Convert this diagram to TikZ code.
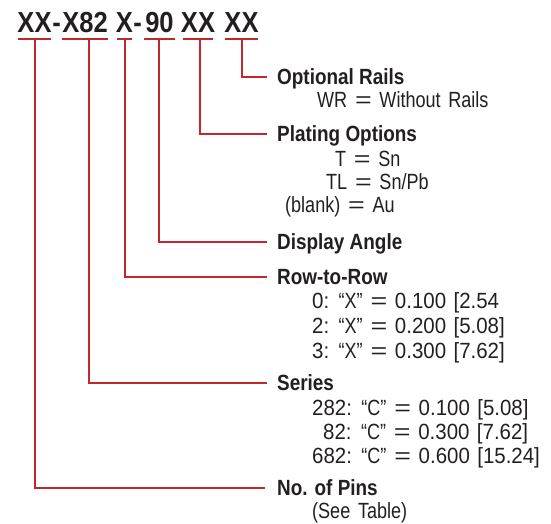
\documentclass[tikz,border=0pt]{standalone}
\usepackage{fontspec}
\setmainfont{Liberation Sans}
\newfontfamily\bodyfont{Liberation Sans}[FakeStretch=0.82,WordSpace=1.55]
\newfontfamily\numfont{Liberation Sans}[FakeStretch=0.93,WordSpace=1.3]
\newfontfamily\headfont{Liberation Sans}[FakeStretch=0.86]
\newfontfamily\titlefont{Liberation Sans}[FakeStretch=0.88]
\newfontfamily\eqfont{Liberation Sans}[FakeStretch=1.3]
\newcommand{\eqs}{{\eqfont=}}
\newcommand{\nm}[1]{{\numfont #1}}
\definecolor{rulered}{HTML}{C1272D}
\definecolor{ink}{HTML}{231F20}
\tikzset{
  conn/.style={draw=rulered, line width=2pt},
  codetext/.style={inner sep=0pt, anchor=base, text=ink, font=\titlefont\bfseries\fontsize{29}{34}\selectfont},
  headtext/.style={inner sep=0pt, anchor=west, text=ink, text height=15.5pt, text depth=0pt, font=\headfont\bfseries\fontsize{22}{24}\selectfont},
  bodytext/.style={inner sep=0pt, anchor=base west, text=ink, font=\bodyfont\fontsize{22}{24}\selectfont},
}
\begin{document}
\begin{tikzpicture}[x=1pt,y=-1pt]
\useasboundingbox (0,0) rectangle (551,524);
% code string
\node[codetext] (c1) at (34.5,33) {XX};
\node[codetext] (h1) at (56.5,33) {-};
\node[codetext] (c2) at (85,33) {X82};
\node[codetext] (c3) at (124.5,33) {X};
\node[codetext] (h2) at (137.5,33) {-};
\node[codetext] (c4) at (159.5,33) {90};
\node[codetext] (c5) at (198,33) {XX};
\node[codetext] (c6) at (241.5,33) {XX};
% underlines
\draw[conn] (18,39) -- (51,39);
\draw[conn] (62,39) -- (108,39);
\draw[conn] (117,39) -- (132,39);
\draw[conn] (144,39) -- (175,39);
\draw[conn] (183,39) -- (213,39);
\draw[conn] (225,39) -- (258,39);
\coordinate (u1) at (35,39);
\coordinate (u2) at (89,39);
\coordinate (u3) at (125,39);
\coordinate (u4) at (159,39);
\coordinate (u5) at (200,39);
\coordinate (u6) at (242,39);
% headers
\node[headtext] (l6) at (277,77) {Optional Rails};
\node[headtext] (l5) at (277,134) {Plating Options};
\node[headtext] (l4) at (277,241.5) {Display Angle};
\node[headtext] (l3) at (277,276.5) {Row-to-Row};
\node[headtext] (l2) at (277,382.5) {Series};
\node[headtext] (l1) at (277,487.5) {No. of Pins};
% body lines
\node[bodytext] (b61) at (317,108) {WR \eqs{} Without Rails};
\node[bodytext] (b51) at (335,166) {T \eqs{} Sn};
\node[bodytext] (b52) at (326,189) {TL \eqs{} Sn/Pb};
\node[bodytext] (b53) at (285,212) {(blank) \eqs{} Au};
\node[bodytext] (b31) at (312,308) {\nm{0:} “X” \eqs{} \nm{0.100 [2.54}};
\node[bodytext] (b32) at (312,333) {\nm{2:} “X” \eqs{} \nm{0.200 [5.08]}};
\node[bodytext] (b33) at (312,358) {\nm{3:} “X” \eqs{} \nm{0.300 [7.62]}};
\node[bodytext] (b21) at (312,415) {\nm{282:} “C” \eqs{} \nm{0.100 [5.08]}};
\node[bodytext] (b22) at (323,439) {\nm{82:} “C” \eqs{} \nm{0.300 [7.62]}};
\node[bodytext] (b23) at (312,463) {\nm{682:} “C” \eqs{} \nm{0.600 [15.24]}};
\node[bodytext] (b11) at (312,518) {(See Table)};
% connectors
\draw[conn] (u6) |- ([xshift=-10pt]l6.west);
\draw[conn] (u5) |- ([xshift=-10pt]l5.west);
\draw[conn] (u4) |- ([xshift=-10pt]l4.west);
\draw[conn] (u3) |- ([xshift=-10pt]l3.west);
\draw[conn] (u2) |- ([xshift=-10pt]l2.west);
\draw[conn] (u1) |- ([xshift=-12pt]l1.west);
\end{tikzpicture}
\end{document}
